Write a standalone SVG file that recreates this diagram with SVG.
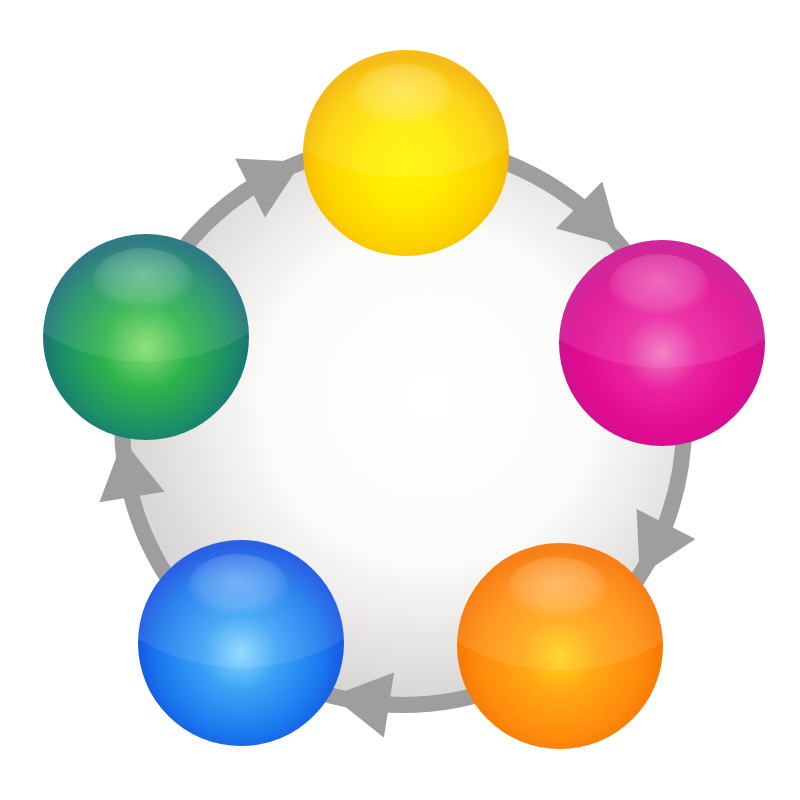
<svg xmlns="http://www.w3.org/2000/svg" width="800" height="800" viewBox="0 0 800 800">
  <style>
    .ring { fill: none; stroke: #9e9e9e; stroke-width: 16; }
    .arrow { fill: #9e9e9e; }
    .sheen { fill: #ffffff; fill-opacity: 0.09; }
    .hl { fill: url(#gHighlight); }
  </style>
  <defs>
    <radialGradient id="gPlate" cx="0.55" cy="0.45" r="0.55">
      <stop offset="0" stop-color="#ffffff"/>
      <stop offset="0.55" stop-color="#fbfbfa"/>
      <stop offset="1" stop-color="#d9d7d5"/>
    </radialGradient>
    <radialGradient id="gHighlight" cx="0.5" cy="0.42" r="0.55">
      <stop offset="0" stop-color="#ffffff" stop-opacity="0.32"/>
      <stop offset="0.7" stop-color="#ffffff" stop-opacity="0.16"/>
      <stop offset="1" stop-color="#ffffff" stop-opacity="0"/>
    </radialGradient>
    <radialGradient id="gYellow" cx="0.5" cy="0.55" r="0.52">
      <stop offset="0" stop-color="#fff400"/>
      <stop offset="0.4" stop-color="#ffea00"/>
      <stop offset="0.8" stop-color="#fcd000"/>
      <stop offset="1" stop-color="#f4b500"/>
    </radialGradient>
    <radialGradient id="gMagenta" cx="0.5" cy="0.55" r="0.52">
      <stop offset="0" stop-color="#f07ac2"/>
      <stop offset="0.35" stop-color="#ea22a0"/>
      <stop offset="0.75" stop-color="#e10a90"/>
      <stop offset="1" stop-color="#cc1290"/>
    </radialGradient>
    <radialGradient id="gOrange" cx="0.5" cy="0.55" r="0.52">
      <stop offset="0" stop-color="#ffd41c"/>
      <stop offset="0.35" stop-color="#ffa614"/>
      <stop offset="0.75" stop-color="#ff8c0c"/>
      <stop offset="1" stop-color="#f67400"/>
    </radialGradient>
    <radialGradient id="gBlue" cx="0.5" cy="0.55" r="0.52">
      <stop offset="0" stop-color="#8ed8ff"/>
      <stop offset="0.35" stop-color="#3aa2f6"/>
      <stop offset="0.75" stop-color="#1a7aee"/>
      <stop offset="1" stop-color="#1552e2"/>
    </radialGradient>
    <radialGradient id="gGreen" cx="0.5" cy="0.55" r="0.52">
      <stop offset="0" stop-color="#86e070"/>
      <stop offset="0.4" stop-color="#2eb34c"/>
      <stop offset="0.78" stop-color="#1c8f66"/>
      <stop offset="1" stop-color="#1a6e78"/>
    </radialGradient>
    <clipPath id="sphereClip">
      <circle cx="0" cy="0" r="103"/>
    </clipPath>
    <polygon id="arrowHead" class="arrow" points="0,-33 58,0 0,33"/>
  </defs>

  <rect width="800" height="800" fill="#ffffff"/>
  <circle id="plate" cx="403" cy="424" r="274" fill="url(#gPlate)"/>

  <g id="connectors">
    <circle class="ring" cx="403" cy="424" r="281"/>
    <use href="#arrowHead" transform="translate(579,205) rotate(44.8)"/>
    <use href="#arrowHead" transform="translate(666,524) rotate(116.8)"/>
    <use href="#arrowHead" transform="translate(389,705) rotate(188.9)"/>
    <use href="#arrowHead" transform="translate(132,497) rotate(260.9)"/>
    <use href="#arrowHead" transform="translate(250,188) rotate(333)"/>
  </g>

  <g id="node-yellow" transform="translate(406,153)">
    <circle r="103" fill="url(#gYellow)"/>
    <ellipse class="sheen" cx="0" cy="-88.6" rx="154.5" ry="113.3" clip-path="url(#sphereClip)"/>
    <ellipse class="hl" cx="-3" cy="-57" rx="50" ry="32"/>
  </g>

  <g id="node-magenta" transform="translate(662,343)">
    <circle r="103" fill="url(#gMagenta)"/>
    <ellipse class="sheen" cx="0" cy="-88.6" rx="154.5" ry="113.3" clip-path="url(#sphereClip)"/>
    <ellipse class="hl" cx="-3" cy="-57" rx="50" ry="32"/>
  </g>

  <g id="node-orange" transform="translate(560,646)">
    <circle r="103" fill="url(#gOrange)"/>
    <ellipse class="sheen" cx="0" cy="-88.6" rx="154.5" ry="113.3" clip-path="url(#sphereClip)"/>
    <ellipse class="hl" cx="-3" cy="-57" rx="50" ry="32"/>
  </g>

  <g id="node-blue" transform="translate(241,643)">
    <circle r="103" fill="url(#gBlue)"/>
    <ellipse class="sheen" cx="0" cy="-88.6" rx="154.5" ry="113.3" clip-path="url(#sphereClip)"/>
    <ellipse class="hl" cx="-3" cy="-57" rx="50" ry="32"/>
  </g>

  <g id="node-green" transform="translate(146,337)">
    <circle r="103" fill="url(#gGreen)"/>
    <ellipse class="sheen" cx="0" cy="-88.6" rx="154.5" ry="113.3" clip-path="url(#sphereClip)"/>
    <ellipse class="hl" cx="-3" cy="-57" rx="50" ry="32"/>
  </g>
</svg>
